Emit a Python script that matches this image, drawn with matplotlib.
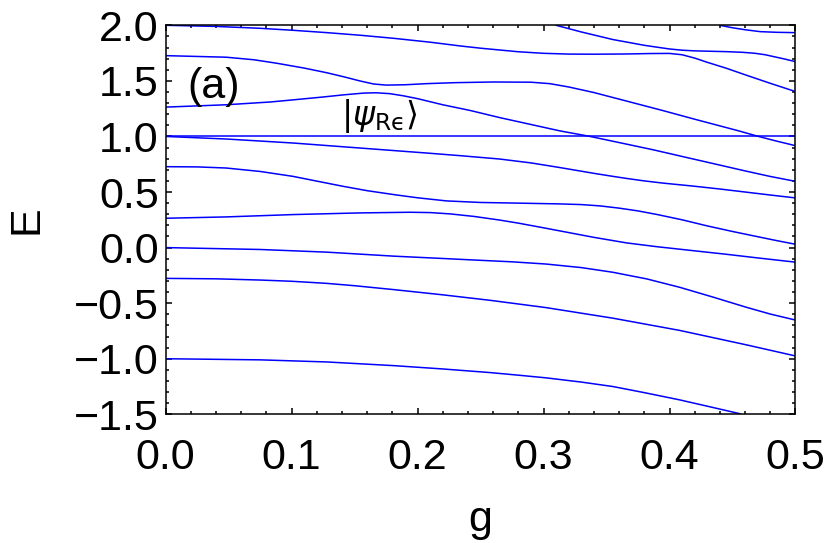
import matplotlib.pyplot as plt
from matplotlib.ticker import MultipleLocator, FixedLocator, FixedFormatter

plt.rcParams['font.family'] = ['Liberation Sans', 'DejaVu Sans']
plt.rcParams['mathtext.fontset'] = 'dejavusans'

# energy levels E(g), top to bottom
g_T2 = [0.44, 0.45, 0.46, 0.472, 0.485, 0.5]
E_T2 = [2.0, 1.978, 1.96, 1.943, 1.937, 1.934]

g_T1 = [0.31, 0.33, 0.355, 0.38, 0.392, 0.4, 0.41, 0.42, 0.445, 0.458, 0.468, 0.476, 0.484, 0.492, 0.5]
E_T1 = [2.0, 1.94, 1.872, 1.82, 1.80, 1.787, 1.776, 1.770, 1.763, 1.757, 1.748, 1.735, 1.715, 1.695, 1.673]

g_A = [0, 0.04, 0.075, 0.1, 0.128, 0.155, 0.181, 0.21, 0.234, 0.25, 0.265, 0.28, 0.3, 0.32, 0.34,
       0.366, 0.385, 0.4, 0.41, 0.42, 0.43, 0.445, 0.46, 0.48, 0.5]
E_A = [2.0, 1.99, 1.973, 1.956, 1.934, 1.91, 1.883, 1.848, 1.814, 1.794, 1.778, 1.762, 1.748, 1.741, 1.740,
       1.742, 1.746, 1.747, 1.735, 1.705, 1.667, 1.614, 1.555, 1.478, 1.404]

g_B = [0, 0.048, 0.07, 0.088, 0.11, 0.128, 0.142, 0.154, 0.165, 0.175, 0.19, 0.207, 0.23, 0.26, 0.29,
       0.305, 0.32, 0.34, 0.366, 0.395, 0.419, 0.44, 0.455, 0.469, 0.485, 0.5]
E_B = [1.727, 1.713, 1.69, 1.659, 1.615, 1.573, 1.535, 1.50, 1.472, 1.462, 1.465, 1.475, 1.484, 1.49, 1.488,
       1.475, 1.445, 1.395, 1.318, 1.232, 1.158, 1.095, 1.05, 1.005, 0.958, 0.917]

g_C = [0, 0.048, 0.083, 0.101, 0.125, 0.141, 0.157, 0.167, 0.178, 0.189, 0.2, 0.22, 0.242, 0.265, 0.289,
       0.313, 0.337, 0.36, 0.387, 0.41, 0.435, 0.46, 0.48, 0.5]
E_C = [1.264, 1.285, 1.31, 1.329, 1.355, 1.374, 1.39, 1.393, 1.385, 1.365, 1.34, 1.285, 1.233, 1.17, 1.11,
       1.05, 1.0, 0.945, 0.88, 0.82, 0.755, 0.69, 0.64, 0.596]

g_flat = [0.0, 0.5]
E_flat = [1.0, 1.0]

g_D = [0, 0.048, 0.101, 0.154, 0.207, 0.235, 0.265, 0.29, 0.313, 0.34, 0.355, 0.366, 0.38, 0.395,
       0.419, 0.44, 0.46, 0.48, 0.5]
E_D = [1.0, 0.977, 0.941, 0.896, 0.851, 0.826, 0.797, 0.762, 0.72, 0.668, 0.641, 0.622, 0.60, 0.58,
       0.553, 0.527, 0.5, 0.473, 0.447]

g_E = [0, 0.025, 0.048, 0.075, 0.101, 0.12, 0.141, 0.16, 0.181, 0.2, 0.223, 0.25, 0.28, 0.313, 0.33,
       0.345, 0.36, 0.375, 0.39, 0.41, 0.43, 0.45, 0.47, 0.485, 0.5]
E_E = [0.728, 0.726, 0.716, 0.685, 0.641, 0.598, 0.551, 0.512, 0.477, 0.448, 0.42, 0.406, 0.40, 0.393, 0.387,
       0.375, 0.355, 0.33, 0.298, 0.25, 0.195, 0.145, 0.098, 0.063, 0.03]

g_F = [0, 0.048, 0.101, 0.154, 0.194, 0.21, 0.226, 0.245, 0.265, 0.28, 0.3, 0.313, 0.34, 0.366, 0.39,
       0.419, 0.445, 0.47, 0.5]
E_F = [0.264, 0.276, 0.297, 0.312, 0.318, 0.315, 0.303, 0.28, 0.248, 0.22, 0.178, 0.15, 0.092, 0.042, 0.008,
       -0.028, -0.06, -0.093, -0.131]

g_G = [0, 0.075, 0.128, 0.181, 0.22, 0.249, 0.275, 0.302, 0.33, 0.355, 0.382, 0.408, 0.435, 0.461, 0.48, 0.5]
E_G = [0.0, -0.017, -0.041, -0.077, -0.098, -0.114, -0.128, -0.148, -0.18, -0.222, -0.282, -0.357, -0.447, -0.537, -0.598, -0.652]

g_H = [0, 0.04, 0.075, 0.1, 0.128, 0.15, 0.181, 0.22, 0.258, 0.302, 0.355, 0.408, 0.461, 0.5]
E_H = [-0.277, -0.281, -0.292, -0.303, -0.322, -0.343, -0.378, -0.425, -0.475, -0.54, -0.635, -0.745, -0.875, -0.975]

g_I = [0, 0.075, 0.128, 0.181, 0.22, 0.258, 0.28, 0.302, 0.33, 0.355, 0.38, 0.408, 0.435, 0.456]
E_I = [-1.0, -1.01, -1.029, -1.062, -1.092, -1.125, -1.148, -1.172, -1.21, -1.25, -1.305, -1.37, -1.44, -1.495]

levels = [(g_T2, E_T2), (g_T1, E_T1), (g_A, E_A), (g_B, E_B), (g_C, E_C), (g_flat, E_flat),
          (g_D, E_D), (g_E, E_E), (g_F, E_F), (g_G, E_G), (g_H, E_H), (g_I, E_I)]

x_ticks = [0.0, 0.1, 0.2, 0.3, 0.4, 0.5]
x_ticklabels = ['0.0', '0.1', '0.2', '0.3', '0.4', '0.5']
y_ticks = [-1.5, -1.0, -0.5, 0.0, 0.5, 1.0, 1.5, 2.0]
y_ticklabels = ['\u22121.5', '\u22121.0', '\u22120.5', '0.0', '0.5', '1.0', '1.5', '2.0']

state_label = '$|\\psi_{\\mathrm{R\u03f5}}\\rangle$'

FS = 31

fig = plt.figure(figsize=(8.3, 5.43), dpi=100)
ax = fig.add_axes([0.1996, 0.237, 0.7588, 0.7164])

for gs, es in levels:
    ax.plot(gs, es, color='#0000ff', lw=1.1, solid_joinstyle='round')

ax.set_xlim(0, 0.5)
ax.set_ylim(-1.5, 2.0)

ax.xaxis.set_major_locator(FixedLocator(x_ticks))
ax.xaxis.set_major_formatter(FixedFormatter(x_ticklabels))
ax.yaxis.set_major_locator(FixedLocator(y_ticks))
ax.yaxis.set_major_formatter(FixedFormatter(y_ticklabels))
ax.xaxis.set_minor_locator(MultipleLocator(0.02))
ax.yaxis.set_minor_locator(MultipleLocator(0.1))

ax.tick_params(which='both', direction='in', top=True, right=True, width=1.1, color='black')
ax.tick_params(which='major', length=4.5)
ax.tick_params(which='minor', length=2.5)
ax.tick_params(axis='x', labelsize=FS, pad=17)
ax.tick_params(axis='y', labelsize=FS, pad=5)
for s in ax.spines.values():
    s.set_linewidth(1.1)

ax.set_xlabel('g', fontsize=FS, labelpad=16)
ax.set_ylabel('E', fontsize=FS, labelpad=20)

ax.text(0.017, 1.446, '(a)', fontsize=FS, ha='left', va='center')
ax.text(0.170, 1.18, state_label, fontsize=24, ha='center', va='center')

fig.savefig('out.png', dpi=100)
